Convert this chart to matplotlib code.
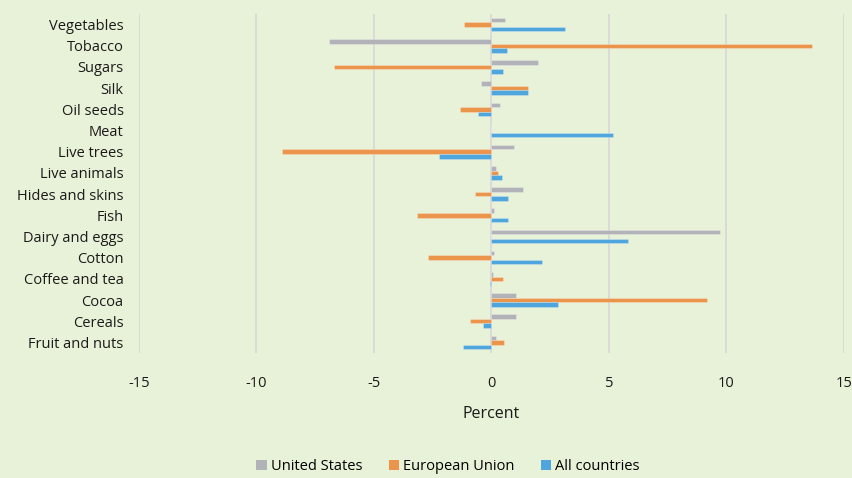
import numpy as np
import matplotlib
matplotlib.use("Agg")
import matplotlib.pyplot as plt
from matplotlib.patches import Patch

plt.rcParams["font.family"] = ["Open Sans", "DejaVu Sans"]

categories = ["Vegetables", "Tobacco", "Sugars", "Silk", "Oil seeds", "Meat",
              "Live trees", "Live animals", "Hides and skins", "Fish",
              "Dairy and eggs", "Cotton", "Coffee and tea", "Cocoa", "Cereals",
              "Fruit and nuts"]
united_states = [0.58, -6.9, 1.97, -0.44, 0.38, 0.0, 0.94, 0.19, 1.35, 0.1,
                 9.72, 0.12, 0.05, 1.04, 1.05, 0.19]
european_union = [-1.16, 13.65, -6.69, 1.55, -1.35, 0.0, -8.9, 0.26, -0.69, -3.16,
                  0.0, -2.7, 0.5, 9.19, -0.91, 0.54]
all_countries = [3.12, 0.68, 0.51, 1.55, -0.57, 5.18, -2.21, 0.44, 0.7, 0.71,
                 5.8, 2.17, -0.05, 2.84, -0.34, -1.22]

series = [("United States", united_states, "#b2b3b8"),
          ("European Union", european_union, "#ea954b"),
          ("All countries", all_countries, "#4ea6dd")]

BG = "#e8f2d8"
fig = plt.figure(figsize=(8.52, 4.78), dpi=100, facecolor=BG)
ax = fig.add_axes([0.163, 0.2615, 0.8276, 0.7092], facecolor=BG)

y = np.arange(len(categories))
h = 0.215
for i, (name, vals, col) in enumerate(series):
    ax.barh(y + (i - 1) * h, vals, height=h, color=col,
            edgecolor=(1, 1, 1, 0.35), linewidth=0.5, zorder=3)

ax.set_ylim(len(categories) - 0.5, -0.5)
ax.set_xlim(-15, 15)
ax.set_xticks(range(-15, 16, 5))
ax.set_xticklabels([str(v) for v in range(-15, 16, 5)])
ax.set_yticks(y)
ax.set_yticklabels(categories)
ax.grid(axis="x", color="#d9d9d9", linewidth=1.3, zorder=0)
ax.grid(axis="y", visible=False)
for s in ax.spines.values():
    s.set_visible(False)
ax.tick_params(axis="both", length=0, labelsize=10.5, colors="#1a1a1a")
ax.tick_params(axis="y", pad=11)
ax.tick_params(axis="x", pad=16.5)
ax.set_xlabel("Percent", fontsize=11.5, color="#1a1a1a", labelpad=11)

handles = [Patch(facecolor=c, label=n) for n, _, c in series]
fig.legend(handles=handles, loc="center", bbox_to_anchor=(0.526, 0.024),
           ncol=3, frameon=False, fontsize=10.5, handlelength=0.7,
           handleheight=0.7, handletextpad=0.3, columnspacing=1.8)

fig.savefig("out.png", dpi=100, facecolor=BG)
